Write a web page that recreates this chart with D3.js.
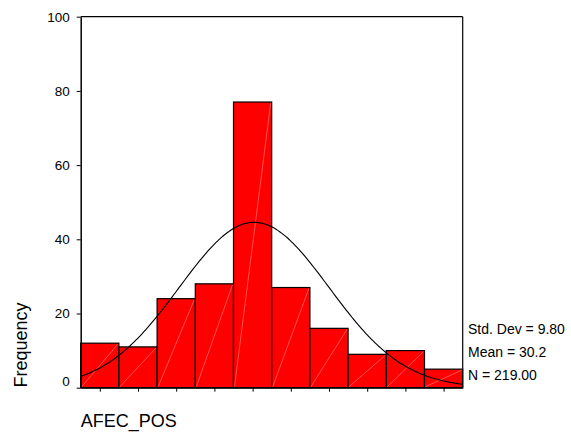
<!DOCTYPE html>
<html>
<head>
<meta charset="utf-8">
<script src="https://cdn.jsdelivr.net/npm/d3@7"></script>
<style>
  html, body { margin: 0; padding: 0; background: #fff; }
  svg { display: block; }
  text { font-family: Arial, "Liberation Sans", sans-serif; fill: #000; }
</style>
</head>
<body>
<svg id="chart" width="571" height="433"></svg>
<script>
// ---- data ----
const binCenters = [10, 15, 20, 25, 30, 35, 40, 45, 50, 55];
const frequencies = [12, 11, 24, 28, 77, 27, 16, 9, 10, 5];
const binWidth = 5;
const yTicks = [0, 20, 40, 60, 80, 100];
const statLabels = ["Std. Dev = 9.80", "Mean = 30.2", "N = 219.00"];
const stdDev = 9.80, mean = 30.2, nCount = 219;
const xLabel = "AFEC_POS";
const yLabel = "Frequency";

// ---- layout ----
const svg = d3.select("#chart");
const plotL = 80.7, plotR = 462.7, plotT = 16.7, plotB = 387.7;

const x = d3.scaleLinear()
  .domain([binCenters[0] - binWidth / 2, binCenters[binCenters.length - 1] + binWidth / 2])
  .range([plotL, plotR]);
const y = d3.scaleLinear().domain([0, 100]).range([plotB, plotT]);

// bars
const bars = svg.append("g");
binCenters.forEach((c, i) => {
  const x0 = x(c - binWidth / 2), x1 = x(c + binWidth / 2);
  const y0 = y(frequencies[i]);
  bars.append("rect")
    .attr("x", x0).attr("y", y0)
    .attr("width", x1 - x0).attr("height", y(0) - y0)
    .attr("fill", "#ff0000").attr("stroke", "#000").attr("stroke-width", 1.2);
  bars.append("line")
    .attr("x1", x0 + 1).attr("y1", y(0) - 1)
    .attr("x2", x1 - 1).attr("y2", y0 + 1)
    .attr("stroke", "#ff8686").attr("stroke-width", 0.6);
});

// normal curve
const curvePts = d3.range(0, 201).map(k => {
  const v = x.domain()[0] + (x.domain()[1] - x.domain()[0]) * k / 200;
  const z = (v - mean) / stdDev;
  return [v, nCount * binWidth / (stdDev * Math.sqrt(2 * Math.PI)) * Math.exp(-0.5 * z * z)];
});
svg.append("path")
  .datum(curvePts)
  .attr("d", d3.line().x(d => x(d[0])).y(d => y(d[1])).curve(d3.curveBasis))
  .attr("fill", "none").attr("stroke", "#000").attr("stroke-width", 1.1);

// frame (top and right)
svg.append("line").attr("x1", plotL).attr("x2", plotR).attr("y1", plotT).attr("y2", plotT)
  .attr("stroke", "#000").attr("stroke-width", 1.2);
svg.append("line").attr("x1", plotR).attr("x2", plotR).attr("y1", plotT).attr("y2", plotB)
  .attr("stroke", "#000").attr("stroke-width", 1.2);

// y axis
const yAxis = svg.append("g").attr("transform", `translate(${plotL},0)`)
  .call(d3.axisLeft(y).tickValues(yTicks).tickSize(4).tickPadding(7).tickSizeOuter(0));
yAxis.select(".domain").attr("stroke", "#000").attr("stroke-width", 1.5);
yAxis.selectAll("text").style("font-size", "13.5px")
  .attr("dy", d => d === 0 ? "-0.15em" : "0.32em");

// x axis (ticks at bin centers, no labels)
const xAxis = svg.append("g").attr("transform", `translate(0,${plotB})`)
  .call(d3.axisBottom(x).tickValues(binCenters).tickSize(4).tickFormat("").tickSizeOuter(0));
xAxis.select(".domain").attr("stroke", "#000").attr("stroke-width", 1.2);

// axis titles
svg.append("text").attr("x", plotL).attr("y", 427)
  .style("font-size", "18px").text(xLabel);
svg.append("text").attr("transform", "translate(26.5,345) rotate(-90)")
  .attr("text-anchor", "middle").style("font-size", "18px").text(yLabel);

// stats
statLabels.forEach((s, i) => {
  svg.append("text").attr("x", 468).attr("y", 333.5 + i * 23.3)
    .style("font-size", "14px").text(s);
});
</script>
</body>
</html>
